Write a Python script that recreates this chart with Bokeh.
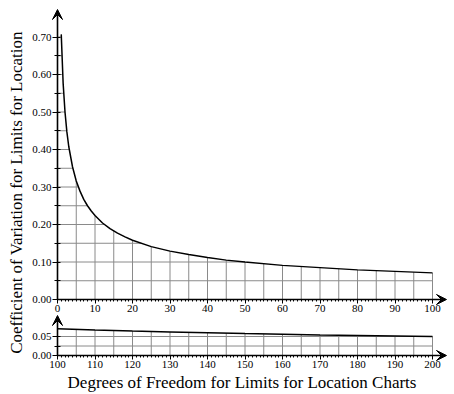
import numpy as np
from bokeh.plotting import figure
from bokeh.models import (Range1d, FixedTicker, Arrow, VeeHead, Label,
                          LinearAxis, NumeralTickFormatter)
from bokeh.embed import file_html
from bokeh.resources import INLINE

# ---- data ----
dof_upper = [1, 1.5, 2, 2.5, 3, 4, 5, 6, 7, 8, 9, 10, 12, 14, 16, 18, 20,
             25, 30, 35, 40, 45, 50, 60, 70, 80, 90, 100]
cv_upper = [0.707, 0.577, 0.500, 0.447, 0.408, 0.354, 0.316, 0.289, 0.267,
            0.250, 0.236, 0.224, 0.204, 0.189, 0.177, 0.167, 0.158, 0.141,
            0.129, 0.120, 0.112, 0.105, 0.100, 0.091, 0.085, 0.079, 0.075,
            0.071]
dof_lower = [100, 110, 120, 130, 140, 150, 160, 170, 180, 190, 200]
cv_lower = [0.0707, 0.0674, 0.0645, 0.0620, 0.0598, 0.0577, 0.0559, 0.0542,
            0.0527, 0.0513, 0.0500]

upper_x_ticks = [0, 10, 20, 30, 40, 50, 60, 70, 80, 90, 100]
upper_y_ticks = [0.00, 0.10, 0.20, 0.30, 0.40, 0.50, 0.60, 0.70]
lower_x_ticks = [100, 110, 120, 130, 140, 150, 160, 170, 180, 190, 200]
lower_y_ticks = [0.00, 0.05]

x_label = "Degrees of Freedom for Limits for Location Charts"
y_label = "Coefficient of Variation for Limits for Location"

FONT = "Liberation Serif"
GRID = "#8a8a8a"

# ---- canvas geometry (canvas pixels) ----
W, H = 454, 394
ORIGIN_X = 57          # x position of both vertical axes
PX_X = 3.75            # px per degree of freedom
UP_ZERO_Y = 299        # y of upper x axis
PX_UP = 375.0          # px per unit cv (upper)
LOW_ZERO_Y = 355       # y of lower x axis
PX_LOW = 380.0         # px per unit cv (lower)

x_lo = -ORIGIN_X / PX_X
x_hi = (W - ORIGIN_X) / PX_X
p = figure(width=W, height=H,
           x_range=Range1d(x_lo, x_hi),
           y_range=Range1d(-(H - UP_ZERO_Y) / PX_UP, UP_ZERO_Y / PX_UP),
           x_axis_type=None, y_axis_type=None,
           output_backend="svg", toolbar_location=None,
           min_border=0, outline_line_color=None)
p.extra_x_ranges = {"lowx": Range1d(100 + x_lo, 100 + x_hi)}
p.extra_y_ranges = {"low": Range1d(-(H - LOW_ZERO_Y) / PX_LOW,
                                   LOW_ZERO_Y / PX_LOW)}
p.xgrid.visible = False
p.ygrid.visible = False

LOW = dict(x_range_name="lowx", y_range_name="low")


def make_axis(kind, ticks, minor, bounds, loc, **rng):
    ax = LinearAxis(fixed_location=loc, bounds=bounds,
                    ticker=FixedTicker(ticks=ticks, minor_ticks=minor), **rng)
    ax.axis_line_color = None
    ax.major_tick_line_color = "black"
    ax.minor_tick_line_color = "black"
    ax.major_label_text_font = FONT
    ax.major_label_text_font_size = "11px"
    ax.major_label_text_color = "black"
    ax.major_label_standoff = 1
    if kind == "x":
        ax.major_tick_in, ax.major_tick_out = 0, 4
        ax.minor_tick_in, ax.minor_tick_out = 0, 2
        p.add_layout(ax, "below")
    else:
        ax.formatter = NumeralTickFormatter(format="0.00")
        ax.major_tick_in, ax.major_tick_out = 3, 5
        ax.minor_tick_in, ax.minor_tick_out = 3, 3
        p.add_layout(ax, "left")


make_axis("x", upper_x_ticks, list(range(0, 101)), (0, 100), 0)
make_axis("y", upper_y_ticks, [0.05, 0.15, 0.25, 0.35, 0.45, 0.55, 0.65],
          (0, 0.70), 0)
make_axis("x", lower_x_ticks, list(range(100, 201)), (100, 200), 0, **LOW)
make_axis("y", lower_y_ticks, [0.025], (0, 0.05), 100, **LOW)


def grid_under_curve(xs, ys, vgrid, hgrid, x0, **rng):
    xs = np.asarray(xs, float)
    ys = np.asarray(ys, float)
    vg = np.asarray(vgrid, float)
    p.segment(x0=vg, y0=np.zeros_like(vg), x1=vg, y1=np.interp(vg, xs, ys),
              line_color=GRID, line_width=1, **rng)
    hg = np.asarray(hgrid, float)
    hx = np.interp(hg, ys[::-1], xs[::-1])
    p.segment(x0=np.full_like(hg, x0), y0=hg, x1=hx, y1=hg,
              line_color=GRID, line_width=1, **rng)
    p.line(xs, ys, line_color="black", line_width=1.5, **rng)


grid_under_curve(dof_upper, cv_upper, np.arange(5, 101, 5),
                 np.arange(0.05, 0.701, 0.05), 0)
grid_under_curve(dof_lower, cv_lower, np.arange(105, 201, 5),
                 [0.025, 0.05], 100, **LOW)


def add_arrows(x0, x_tip, y_tip, **rng):
    for (xe, ye) in ((x_tip, 0), (x0, y_tip)):
        p.add_layout(Arrow(x_start=x0, y_start=0, x_end=xe, y_end=ye,
                           line_color="black", line_width=1.6,
                           end=VeeHead(size=10, fill_color="black",
                                       line_color="black", line_width=1),
                           **rng))


X_TIP = (446 - ORIGIN_X) / PX_X
add_arrows(0, X_TIP, (UP_ZERO_Y - 9) / PX_UP)
add_arrows(100, 100 + X_TIP, (LOW_ZERO_Y - 315) / PX_LOW, **LOW)

# axis titles
p.add_layout(Label(x=(241.5 - ORIGIN_X) / PX_X, y=-(382 - UP_ZERO_Y) / PX_UP,
                   text=x_label, text_font=FONT, text_font_size="17px",
                   text_color="black", text_align="center",
                   text_baseline="alphabetic"))
p.add_layout(Label(x=(16 - ORIGIN_X) / PX_X, y=(UP_ZERO_Y - 192) / PX_UP,
                   text=y_label, angle=np.pi / 2, text_font=FONT,
                   text_font_size="17px", text_color="black",
                   text_align="center", text_baseline="middle"))

open("out.html", "w").write(file_html(p, INLINE))
